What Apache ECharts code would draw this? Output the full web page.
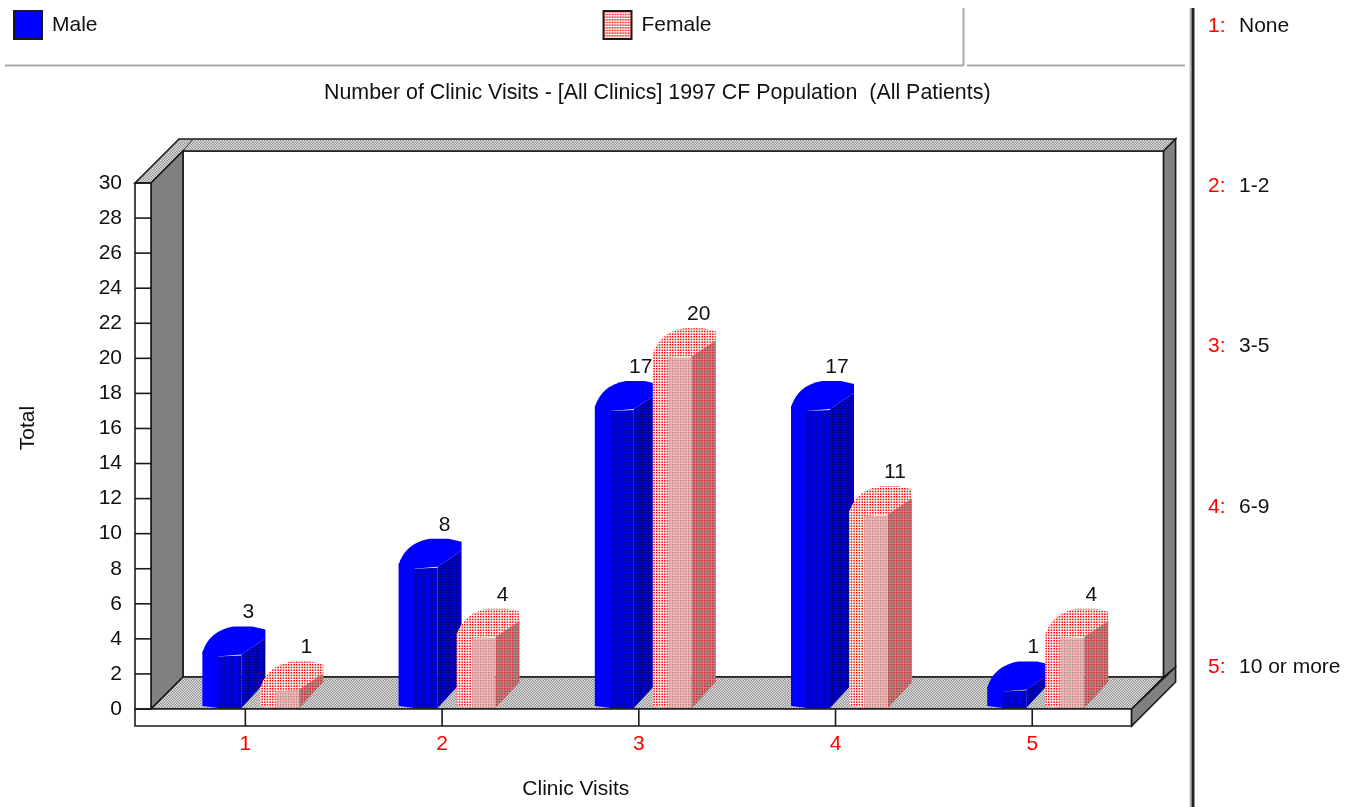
<!DOCTYPE html>
<html><head><meta charset="utf-8">
<style>html,body{margin:0;padding:0;background:#fff}#c{width:1349px;height:807px}</style>
<script src="https://cdn.jsdelivr.net/npm/echarts@6/dist/echarts.min.js"></script>
</head><body><div id="c"></div>
<script>
const categories = ['1','2','3','4','5'];
const maleValues = [3,8,17,17,1];
const femaleValues = [1,4,20,11,4];
const visitRanges = ['None','1-2','3-5','6-9','10 or more'];
const chartTitle = 'Number of Clinic Visits - [All Clinics] 1997 CF Population  (All Patients)';
const FONT = '"Liberation Sans", Arial, sans-serif';

function dots(bg, fg, size) {
  const c = document.createElement('canvas'); c.width = c.height = 8;
  const g = c.getContext('2d'); g.fillStyle = bg; g.fillRect(0,0,8,8); g.fillStyle = fg;
  for (let i=0;i<3;i++) for (let j=0;j<3;j++) g.fillRect(i*8/3, j*8/3, size, size);
  return {image:c, repeat:'repeat'};
}
function checker(bg, fg) {
  const c = document.createElement('canvas'); c.width = c.height = 16;
  const g = c.getContext('2d'); g.fillStyle = bg; g.fillRect(0,0,16,16); g.fillStyle = fg;
  const s = 16/12;
  for (let i=0;i<12;i++) for (let j=0;j<12;j++) if ((i+j)%2) g.fillRect(i*s, j*s, s, s);
  return {image:c, repeat:'repeat'};
}
const P = {
  maleA: '#0000ff',
  maleB: dots('#0000e8','#000090',1.3),
  maleC: dots('#0000d8','#000070',1.5),
  femA: dots('#ffffff','#ff1010',1.6),
  femB: dots('#f4b4b4','#a08080',1.2),
  femC: dots('#a89090','#d83030',1.6),
  dither: checker('#e8e8e8','#8a8a8a')
};

const chart = echarts.init(document.getElementById('c'), null, {renderer:'canvas'});

function poly(points, fill, stroke, lw) {
  return {type:'polygon', shape:{points}, style:{fill:fill||'none', stroke:stroke||'none', lineWidth:lw||0}};
}
function frame(params) {
  const r = params.coordSys, x0=r.x-12, xB=r.x+r.width+1, yT=r.y, yB=r.y+r.height;
  const d=32, s=16, ink='#1a1a1a', lw=1.6;
  const front = x0+s;
  const kids = [
    poly([[front+d,yT-d],[xB+d,yT-d],[xB+d,yB-d],[front+d,yB-d]],'#fff',ink,lw),
    poly([[x0,yT],[x0+44,yT-44],[xB+44,yT-44],[xB+32,yT-32],[front+d,yT-d],[front,yT]],P.dither,ink,lw),
    {type:'line',shape:{x1:front+d,y1:yT-d,x2:front+d+10,y2:yT-44},style:{stroke:'#333',lineWidth:1}},
    poly([[front,yT],[front+d,yT-d],[front+d,yB-d],[front,yB]],'#808080',ink,lw),
    poly([[xB+d,yT-d],[xB+44,yT-44],[xB+44,yB-42],[xB+d,yB-d]],'#808080',ink,lw),
    poly([[front,yB],[front+d,yB-d],[xB+d,yB-d],[xB,yB]],P.dither,ink,lw),
    poly([[x0,yB],[xB,yB],[xB,yB+17],[x0,yB+17]],'#fff',ink,lw),
    poly([[xB,yB],[xB+44,yB-42],[xB+44,yB-27],[xB,yB+17]],'#808080',ink,lw),
    poly([[x0,yT],[front,yT],[front,yB],[x0,yB]],'#fff',ink,lw)
  ];
  for (let v=0;v<=30;v+=2) {
    const p = r.y + r.height*(1-v/30);
    kids.push({type:'line',shape:{x1:x0,y1:p,x2:front,y2:p},style:{stroke:ink,lineWidth:lw}});
  }
  categories.forEach((c,i)=>{
    const cx = r.x + r.width*(i+0.5)/categories.length;
    kids.push({type:'line',shape:{x1:cx,y1:yB,x2:cx,y2:yB+17},style:{stroke:ink,lineWidth:lw}});
  });
  return {type:'group',children:kids};
}
function barItem(offset, fills) {
  return function(params, api) {
    const idx = api.value(0), val = api.value(1);
    const c = api.coord([idx,val]), b = api.coord([idx,0]);
    const x = c[0]+offset-idx*0.5, t = c[1], y = b[1]-1;
    const cap = `M${x} ${t-4} Q${x+7} ${t-26} ${x+31} ${t-30} L${x+50} ${t-30} L${x+63} ${t-27} L${x+63} ${t-18} L${x+39} ${t-2} L${x+15} ${t} Z`;
    return {type:'group',children:[
      poly([[x,y-2],[x+16,y],[x+16,t-1],[x,t-5]],fills.a),
      {type:'path',shape:{pathData:cap,x:x,y:t-30,width:63,height:30,layout:'none'},style:{fill:fills.a}},
      poly([[x+15,y],[x+39,y],[x+39,t-1],[x+15,t]],fills.b),
      poly([[x+39,y],[x+63,y-26],[x+63,t-18],[x+39,t-2]],fills.c),
      {type:'text',style:{text:String(val),x:x+46,y:t-44,align:'center',verticalAlign:'middle',
        font:'21px '+FONT,fill:'#111'}}
    ]};
  };
}
function panelItem(i){
  const y = 25 + i*160.3;
  return [
    {type:'text',left:1208,top:y-9.5,style:{text:(i+1)+':',font:'21px '+FONT,fill:'#ff0000'}},
    {type:'text',left:1239,top:y-9.5,style:{text:visitRanges[i],font:'21px '+FONT,fill:'#111'}}
  ];
}
chart.setOption({
  animation:false,
  backgroundColor:'#fff',
  title:{text:chartTitle,left:324,top:83,textStyle:{fontFamily:FONT,fontSize:21.4,fontWeight:'normal',color:'#111'},padding:0},
  legend:{left:13,top:10,itemWidth:28,itemHeight:28,itemGap:505,padding:0,selectedMode:false,
    textStyle:{fontFamily:FONT,fontSize:21,color:'#111',padding:[0,0,0,5]},
    data:[
      {name:'Male',icon:'rect',itemStyle:{color:'#0000ff',borderColor:'#1a1a1a',borderWidth:2}},
      {name:'Female',icon:'rect',itemStyle:{color:P.femA,borderColor:'#1a1a1a',borderWidth:2}}
    ]},
  grid:{left:147,top:183,width:983.6,height:526,containLabel:false,outerBoundsMode:'none'},
  xAxis:{type:'category',data:categories,
    name:'Clinic Visits',nameLocation:'middle',nameGap:70,
    nameTextStyle:{fontFamily:FONT,fontSize:21,color:'#111',padding:[0,126,0,0]},
    axisLine:{show:false},axisTick:{show:false},
    axisLabel:{color:'#ff0000',fontFamily:FONT,fontSize:21,margin:25}},
  yAxis:{type:'value',min:0,max:30,interval:2,
    name:'Total',nameLocation:'middle',nameGap:108,
    nameTextStyle:{fontFamily:FONT,fontSize:21,color:'#111',padding:[0,0,0,36]},
    axisLine:{show:false},axisTick:{show:false},splitLine:{show:false},
    axisLabel:{color:'#111',fontFamily:FONT,fontSize:21,margin:25}},
  series:[
    {type:'custom',name:'frame',silent:true,z:1,data:[[0,0]],renderItem:(p)=>frame(p)},
    {type:'custom',name:'Male',z:2,encode:{x:0,y:1},itemStyle:{color:'#0000ff'},
      data:maleValues.map((v,i)=>[i,v]),renderItem:barItem(-43,{a:P.maleA,b:P.maleB,c:P.maleC})},
    {type:'custom',name:'Female',z:3,encode:{x:0,y:1},itemStyle:{color:'#ff0000'},
      data:femaleValues.map((v,i)=>[i,v]),renderItem:barItem(15,{a:P.femA,b:P.femB,c:P.femC})}
  ],
  graphic:{elements:[
    {type:'line',shape:{x1:5,y1:65.5,x2:963,y2:65.5},style:{stroke:'#aaa',lineWidth:2}},
    {type:'line',shape:{x1:963.5,y1:8,x2:963.5,y2:66},style:{stroke:'#aaa',lineWidth:2}},
    {type:'line',shape:{x1:967,y1:65.5,x2:1185,y2:65.5},style:{stroke:'#aaa',lineWidth:2}},
    {type:'line',shape:{x1:1190.5,y1:8,x2:1190.5,y2:807},style:{stroke:'#bbb',lineWidth:2}},
    {type:'line',shape:{x1:1193,y1:8,x2:1193,y2:807},style:{stroke:'#222',lineWidth:3}},
    ...visitRanges.flatMap((_,i)=>panelItem(i))
  ]}
});
</script></body></html>
